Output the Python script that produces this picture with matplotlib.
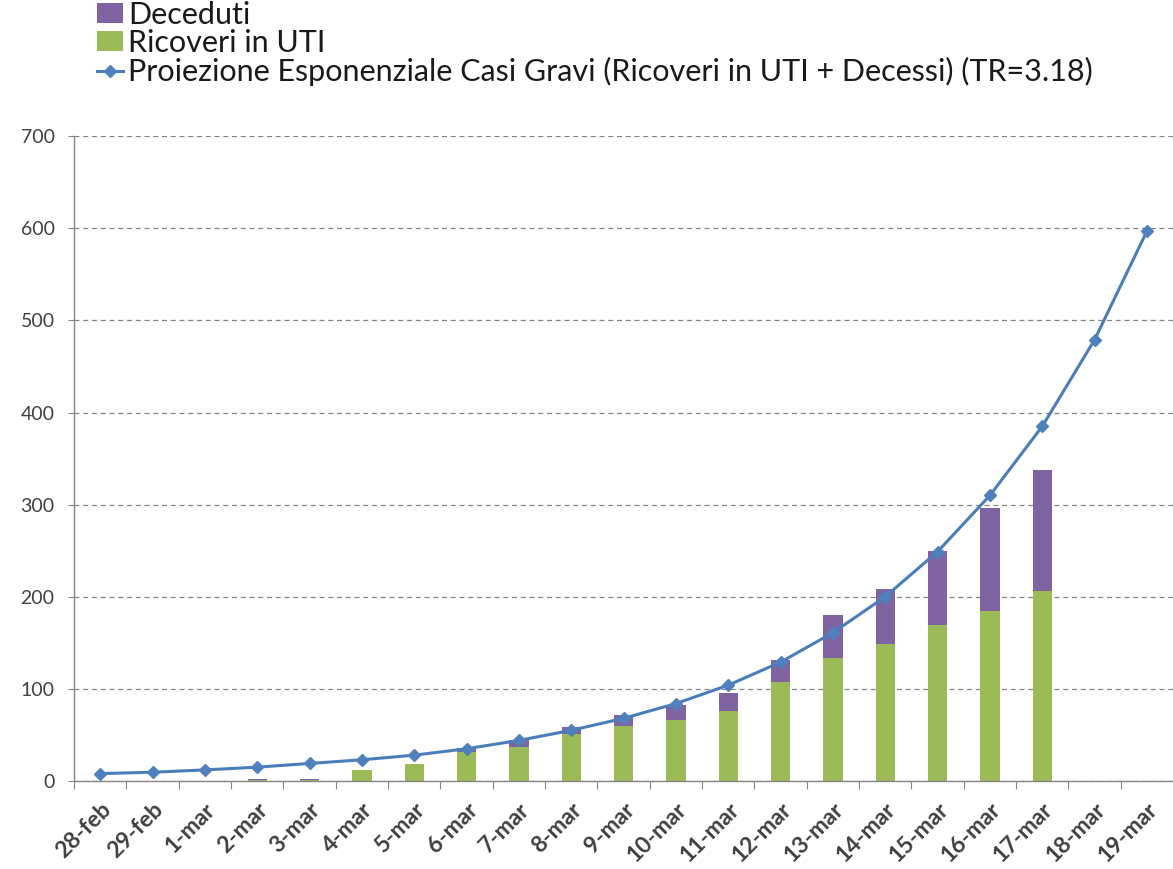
import matplotlib
matplotlib.use("Agg")
import matplotlib.pyplot as plt
from matplotlib.lines import Line2D
from matplotlib.patches import Patch
import numpy as np

plt.rcParams["font.family"] = ["Lato", "DejaVu Sans"]

dates = ["28-feb", "29-feb", "1-mar", "2-mar", "3-mar", "4-mar", "5-mar",
         "6-mar", "7-mar", "8-mar", "9-mar", "10-mar", "11-mar", "12-mar",
         "13-mar", "14-mar", "15-mar", "16-mar", "17-mar", "18-mar", "19-mar"]
# ICU admissions (green) and deaths (purple), stacked
ricoveri = [0, 0, 0, 1, 1, 12, 18, 31, 37, 51, 60, 66, 76, 107, 133, 149, 169, 185, 206, 0, 0]
deceduti = [0, 0, 0, 1, 1, 0, 0, 5, 7, 8, 12, 17, 19, 24, 47, 59, 81, 111, 132, 0, 0]
# exponential projection of severe cases
proiezione = [8, 9.5, 12, 15, 19, 23, 28, 35, 44, 55, 68, 84, 104, 129, 161,
              200, 249, 310, 385, 479, 597]

green = "#9BBB59"
purple = "#8064A2"
blue = "#4A7EBB"
marker_blue = "#4F81BD"
axis_gray = "#868686"
text_gray = "#404040"

fig = plt.figure(figsize=(11.73, 8.69), dpi=100)
ax = fig.add_axes([0.0631, 0.1013, 0.937, 0.742])

x = np.arange(len(dates))
ax.bar(x, ricoveri, width=0.37, color=green, zorder=2)
ax.bar(x, deceduti, width=0.37, bottom=ricoveri, color=purple, zorder=2)
ax.plot(x, proiezione, color=blue, linewidth=2.2, marker="D", markersize=6,
        markerfacecolor=marker_blue, markeredgecolor=marker_blue, zorder=3)

ax.set_xlim(-0.5, len(dates) - 0.5)
ax.set_ylim(0, 700)
ax.set_yticks(range(0, 701, 100))
ax.yaxis.grid(True, color=axis_gray, linestyle=(0, (4, 3)), linewidth=0.9)
ax.set_axisbelow(True)

# tick marks between categories, labels centred on categories
ax.set_xticks(x - 0.5, minor=False)
ax.set_xticklabels([])
ax.set_xticks(x, minor=True)
ax.set_xticklabels(dates, minor=True, rotation=45, ha="right",
                   rotation_mode="anchor", fontsize=16.5, fontweight="bold",
                   color=text_gray)
ax.tick_params(axis="x", which="minor", length=0, pad=13)
ax.tick_params(axis="x", which="major", length=6, color=axis_gray, direction="out")
ax.tick_params(axis="y", length=4, color=axis_gray, labelsize=14,
               labelcolor=text_gray, pad=10)

for side in ["top", "right"]:
    ax.spines[side].set_visible(False)
for side in ["left", "bottom"]:
    ax.spines[side].set_color(axis_gray)
    ax.spines[side].set_linewidth(1.0)

handles = [
    Patch(facecolor=purple, edgecolor="none"),
    Patch(facecolor=green, edgecolor="none"),
    Line2D([0], [0], color=blue, linewidth=2.2, marker="D", markersize=6,
           markerfacecolor=marker_blue, markeredgecolor=marker_blue),
]
labels = ["Deceduti", "Ricoveri in UTI",
          "Proiezione Esponenziale Casi Gravi (Ricoveri in UTI + Decessi) (TR=3.18)"]
fig.legend(handles, labels, loc="upper left", bbox_to_anchor=(0.0827, 0.999),
           frameon=False, fontsize=22, handlelength=0.85, handleheight=0.62,
           handletextpad=0.16, labelspacing=0.0, borderaxespad=0.0,
           borderpad=0.0, labelcolor="#1a1a1a")

fig.savefig("out.png", dpi=100, facecolor="white")
